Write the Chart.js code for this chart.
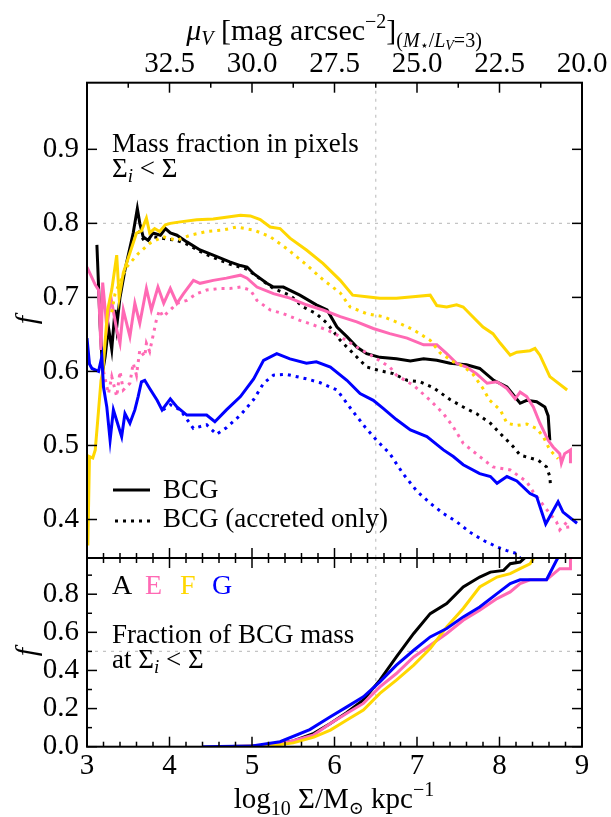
<!DOCTYPE html>
<html>
<head>
<meta charset="utf-8">
<script src="https://cdn.jsdelivr.net/npm/chart.js@4/dist/chart.umd.min.js"></script>
<style>
  html, body { margin: 0; padding: 0; background: #fff; }
  #wrap { position: relative; width: 611px; height: 817px; background: #fff; }
  #wrap canvas { position: absolute; left: 0; }
</style>
</head>
<body>
<div id="wrap">
  <canvas id="topChart" width="611" height="585" style="top:0"></canvas>
  <canvas id="botChart" width="611" height="286" style="top:531px"></canvas>
</div>
<script>
// Clusters and their colours
const clusterNames = ["A", "E", "F", "G"];
const clusterColors = ["#000000", "#ff69b4", "#ffd700", "#0000ff"];

// Top panel: mass fraction in pixels with Sigma_i < Sigma  [log10 Sigma, f]
const pixA = [[3.12,0.771],[3.16,0.66],[3.19,0.60],[3.22,0.62],[3.26,0.66],[3.30,0.63],[3.34,0.683],[3.36,0.66],[3.40,0.70],[3.46,0.737],[3.56,0.787],[3.61,0.82],[3.64,0.80],[3.68,0.782],[3.74,0.777],[3.80,0.787],[3.89,0.784],[3.95,0.793],[4.01,0.787],[4.09,0.784],[4.21,0.775],[4.37,0.764],[4.53,0.757],[4.73,0.748],[4.86,0.743],[4.94,0.741],[5.02,0.732],[5.18,0.719],[5.26,0.714],[5.38,0.714],[5.58,0.703],[5.78,0.69],[5.91,0.683],[6.03,0.66],[6.15,0.647],[6.27,0.633],[6.39,0.624],[6.55,0.619],[6.75,0.617],[6.92,0.614],[7.08,0.617],[7.24,0.615],[7.40,0.611],[7.60,0.609],[7.76,0.604],[7.93,0.588],[8.09,0.579],[8.25,0.557],[8.33,0.561],[8.45,0.559],[8.55,0.552],[8.59,0.54],[8.61,0.507]];
const pixAacc = [[3.62,0.79],[3.70,0.775],[3.80,0.782],[3.90,0.78],[4.09,0.777],[4.21,0.772],[4.37,0.762],[4.53,0.754],[4.73,0.745],[4.94,0.738],[5.10,0.725],[5.26,0.712],[5.46,0.703],[5.62,0.687],[5.78,0.678],[5.91,0.665],[6.07,0.642],[6.23,0.624],[6.39,0.606],[6.55,0.601],[6.71,0.597],[6.88,0.588],[7.04,0.586],[7.20,0.578],[7.40,0.562],[7.56,0.552],[7.72,0.543],[7.89,0.530],[8.01,0.516],[8.17,0.498],[8.25,0.487],[8.47,0.48],[8.57,0.471],[8.61,0.458],[8.62,0.443]];
const pixE = [[3.00,0.741],[3.10,0.717],[3.14,0.71],[3.17,0.629],[3.19,0.72],[3.24,0.66],[3.29,0.70],[3.36,0.656],[3.40,0.638],[3.44,0.683],[3.52,0.647],[3.58,0.692],[3.64,0.665],[3.72,0.712],[3.78,0.683],[3.86,0.714],[3.93,0.692],[4.01,0.712],[4.09,0.692],[4.17,0.705],[4.29,0.723],[4.37,0.719],[4.53,0.723],[4.69,0.726],[4.86,0.73],[4.94,0.726],[5.06,0.714],[5.26,0.705],[5.46,0.699],[5.66,0.69],[5.86,0.683],[6.07,0.674],[6.27,0.667],[6.47,0.658],[6.67,0.651],[6.88,0.645],[7.08,0.636],[7.24,0.636],[7.36,0.624],[7.48,0.611],[7.60,0.606],[7.72,0.597],[7.85,0.584],[7.97,0.586],[8.09,0.577],[8.19,0.563],[8.25,0.572],[8.33,0.566],[8.41,0.552],[8.49,0.53],[8.59,0.507],[8.65,0.498],[8.73,0.489],[8.75,0.476],[8.79,0.489],[8.86,0.494],[8.86,0.476]];
const pixEacc = [[3.20,0.60],[3.26,0.57],[3.30,0.593],[3.36,0.566],[3.40,0.60],[3.44,0.575],[3.52,0.584],[3.56,0.611],[3.60,0.595],[3.64,0.629],[3.70,0.62],[3.72,0.638],[3.76,0.627],[3.84,0.669],[3.88,0.683],[3.92,0.674],[4.01,0.683],[4.09,0.692],[4.21,0.696],[4.33,0.705],[4.45,0.71],[4.61,0.712],[4.73,0.712],[4.86,0.714],[4.98,0.71],[5.06,0.696],[5.22,0.683],[5.38,0.678],[5.58,0.669],[5.74,0.663],[5.91,0.656],[6.07,0.647],[6.27,0.633],[6.47,0.62],[6.67,0.606],[6.75,0.595],[6.96,0.581],[7.16,0.561],[7.32,0.543],[7.44,0.525],[7.56,0.503],[7.76,0.485],[7.92,0.471],[8.13,0.467],[8.33,0.451],[8.41,0.437],[8.61,0.408],[8.69,0.397],[8.73,0.386],[8.82,0.397],[8.83,0.386]];
const pixF = [[3.01,0.365],[3.03,0.485],[3.07,0.483],[3.10,0.494],[3.13,0.534],[3.17,0.588],[3.19,0.598],[3.25,0.683],[3.30,0.71],[3.36,0.757],[3.39,0.70],[3.44,0.733],[3.52,0.76],[3.60,0.787],[3.66,0.79],[3.72,0.807],[3.76,0.787],[3.82,0.793],[3.88,0.789],[3.95,0.798],[4.01,0.80],[4.13,0.802],[4.33,0.805],[4.53,0.806],[4.73,0.809],[4.86,0.811],[4.98,0.81],[5.10,0.805],[5.22,0.795],[5.34,0.793],[5.46,0.78],[5.66,0.764],[5.86,0.746],[6.07,0.723],[6.22,0.703],[6.39,0.701],[6.55,0.699],[6.75,0.699],[6.95,0.701],[7.16,0.703],[7.24,0.689],[7.36,0.687],[7.48,0.69],[7.56,0.687],[7.64,0.678],[7.80,0.66],[7.92,0.651],[8.01,0.638],[8.13,0.622],[8.21,0.626],[8.37,0.628],[8.43,0.631],[8.49,0.622],[8.61,0.593],[8.82,0.575]];
const pixFacc = [[3.30,0.68],[3.34,0.705],[3.48,0.741],[3.62,0.759],[3.76,0.773],[3.92,0.782],[4.09,0.777],[4.25,0.784],[4.45,0.789],[4.65,0.791],[4.81,0.795],[5.02,0.791],[5.22,0.782],[5.42,0.766],[5.66,0.744],[5.86,0.724],[6.07,0.706],[6.19,0.687],[6.39,0.678],[6.59,0.674],[6.79,0.665],[6.96,0.656],[7.16,0.642],[7.28,0.625],[7.44,0.613],[7.56,0.607],[7.68,0.596],[7.80,0.577],[7.88,0.561],[8.01,0.548],[8.09,0.530],[8.21,0.527],[8.33,0.529],[8.45,0.523],[8.53,0.512],[8.61,0.494],[8.71,0.482]];
const pixG = [[3.00,0.645],[3.03,0.61],[3.06,0.604],[3.14,0.60],[3.18,0.62],[3.20,0.579],[3.24,0.552],[3.28,0.507],[3.32,0.548],[3.37,0.53],[3.42,0.512],[3.46,0.543],[3.52,0.53],[3.58,0.548],[3.62,0.566],[3.66,0.586],[3.70,0.588],[3.76,0.577],[3.85,0.561],[3.91,0.548],[4.01,0.563],[4.09,0.552],[4.21,0.541],[4.33,0.541],[4.45,0.541],[4.55,0.532],[4.69,0.548],[4.86,0.566],[5.02,0.59],[5.14,0.615],[5.30,0.624],[5.46,0.617],[5.66,0.611],[5.78,0.613],[5.95,0.606],[6.15,0.588],[6.31,0.570],[6.47,0.561],[6.59,0.55],[6.75,0.535],[6.92,0.521],[7.12,0.512],[7.32,0.494],[7.44,0.485],[7.56,0.474],[7.76,0.462],[7.89,0.458],[7.97,0.449],[8.09,0.458],[8.21,0.452],[8.37,0.435],[8.45,0.431],[8.56,0.394],[8.71,0.424],[8.77,0.41],[8.94,0.395]];
const pixGacc = [[3.92,0.548],[4.01,0.555],[4.13,0.548],[4.29,0.523],[4.45,0.528],[4.57,0.515],[4.69,0.524],[4.86,0.541],[5.02,0.562],[5.14,0.584],[5.26,0.595],[5.42,0.596],[5.66,0.59],[5.82,0.585],[6.03,0.575],[6.15,0.557],[6.23,0.545],[6.37,0.525],[6.51,0.507],[6.67,0.489],[6.83,0.462],[7.00,0.438],[7.16,0.422],[7.32,0.408],[7.48,0.397],[7.64,0.383],[7.80,0.372],[7.97,0.363],[8.09,0.358],[8.21,0.354],[8.30,0.34]];

// Bottom panel: fraction of BCG mass at Sigma_i < Sigma
const bcgA = [[4.6,0],[5.2,0.005],[5.5,0.03],[5.75,0.07],[5.95,0.122],[6.15,0.18],[6.35,0.245],[6.55,0.349],[6.75,0.471],[6.96,0.594],[7.16,0.698],[7.36,0.751],[7.56,0.838],[7.76,0.89],[7.89,0.916],[8.05,0.925],[8.13,0.96],[8.25,0.969],[8.33,1.0]];
const bcgE = [[4.6,0],[5.1,0.004],[5.4,0.02],[5.74,0.06],[5.95,0.122],[6.15,0.175],[6.35,0.227],[6.55,0.314],[6.75,0.384],[6.96,0.471],[7.16,0.532],[7.36,0.594],[7.56,0.663],[7.76,0.716],[7.97,0.777],[8.13,0.812],[8.25,0.856],[8.37,0.876],[8.57,0.876],[8.73,0.934],[8.86,0.934],[8.86,1.0]];
const bcgF = [[4.6,0],[5.2,0.003],[5.5,0.02],[5.75,0.05],[5.95,0.087],[6.15,0.14],[6.35,0.192],[6.55,0.28],[6.75,0.349],[6.96,0.428],[7.16,0.515],[7.36,0.628],[7.56,0.725],[7.76,0.838],[7.97,0.89],[8.13,0.908],[8.25,0.934],[8.37,0.96],[8.43,1.0]];
const bcgG = [[4.4,0],[5.0,0.004],[5.34,0.026],[5.70,0.09],[5.95,0.157],[6.15,0.209],[6.35,0.262],[6.55,0.34],[6.75,0.428],[6.96,0.506],[7.16,0.576],[7.36,0.62],[7.56,0.681],[7.76,0.733],[7.97,0.803],[8.13,0.856],[8.25,0.876],[8.57,0.876],[8.69,0.977],[8.72,1.0]];

// Axes
const logSigmaTicks = [3, 4, 5, 6, 7, 8, 9];
const topYTicks = [0.4, 0.5, 0.6, 0.7, 0.8, 0.9];
const botYTicks = [0, 0.2, 0.4, 0.6, 0.8];
const muTickPos = [4, 5, 6, 7, 8, 9];
const muTickLabels = ["32.5", "30.0", "27.5", "25.0", "22.5", "20.0"];

const SERIF = '"Liberation Serif", "DejaVu Serif", serif';
const font = (size, style) => (style ? style + " " : "") + size + "px " + SERIF;

// list of values from a to b (inclusive) spaced by step
function steps(a, b, step) {
  const out = [];
  const n = Math.round((b - a) / step);
  for (let i = 0; i <= n; i++) out.push(Math.round((a + i * step) * 1000) / 1000);
  return out;
}

function lineDs(points, color, dotted) {
  return {
    data: points.map((p) => ({ x: p[0], y: p[1] })),
    borderColor: color,
    borderWidth: 3,
    borderDash: dotted ? [3, 5] : [],
    pointRadius: 0,
    tension: 0,
    fill: false,
    clip: 0,
  };
}

function seg(ctx, x1, y1, x2, y2) {
  ctx.beginPath();
  ctx.moveTo(x1, y1);
  ctx.lineTo(x2, y2);
  ctx.stroke();
}

// Draw text made of several runs (text, font, baseline shift, colour)
function drawRuns(ctx, runs, x, y, align) {
  let w = 0;
  runs.forEach((r) => {
    ctx.font = r[1];
    w += ctx.measureText(r[0]).width;
  });
  let cx = align === "center" ? x - w / 2 : x;
  ctx.textAlign = "left";
  ctx.textBaseline = "alphabetic";
  runs.forEach((r) => {
    ctx.font = r[1];
    ctx.fillStyle = r[3] || "#000";
    ctx.fillText(r[0], cx, y + (r[2] || 0));
    cx += ctx.measureText(r[0]).width;
  });
}

function drawYLabel(ctx, x, y) {
  ctx.save();
  ctx.translate(x, y);
  ctx.rotate(-Math.PI / 2);
  ctx.font = font(30, "italic");
  ctx.fillStyle = "#000";
  ctx.textAlign = "center";
  ctx.textBaseline = "middle";
  ctx.fillText("f", 0, 0);
  ctx.restore();
}

// Inward tick marks, frame and dotted reference lines
const framePlugin = {
  id: "frameTicks",
  beforeDatasetsDraw(chart, args, opts) {
    const { ctx, chartArea: a, scales } = chart;
    ctx.save();
    ctx.strokeStyle = "#c4c4c4";
    ctx.lineWidth = 1.2;
    ctx.setLineDash([3, 5]);
    const px = scales.x.getPixelForValue(opts.refX);
    seg(ctx, px, a.top, px, a.bottom);
    const py = scales.y.getPixelForValue(opts.refY);
    seg(ctx, a.left, py, a.right, py);
    ctx.restore();
  },
  afterDraw(chart, args, opts) {
    const { ctx, chartArea: a, scales } = chart;
    ctx.save();
    ctx.strokeStyle = "#000";
    ctx.lineWidth = 1.5;
    const xs = scales.x;
    const ys = scales.y;
    opts.xBottom.forEach((t) => {
      const p = xs.getPixelForValue(t[0]);
      seg(ctx, p, a.bottom, p, a.bottom - t[1]);
    });
    opts.xTop.forEach((t) => {
      const p = xs.getPixelForValue(t[0]);
      seg(ctx, p, a.top, p, a.top + t[1]);
    });
    opts.yTicks.forEach((t) => {
      const p = ys.getPixelForValue(t[0]);
      seg(ctx, a.left, p, a.left + t[1], p);
      seg(ctx, a.right, p, a.right - t[1], p);
    });
    ctx.lineWidth = 2;
    ctx.strokeRect(a.left, a.top, a.right - a.left, a.bottom - a.top);
    ctx.restore();
  },
};

const MAJ = 10;
const MIN = 5;
const xMinor = steps(3.2, 8.8, 0.2).filter((v) => !logSigmaTicks.includes(v));
const xTickMarks = logSigmaTicks.map((v) => [v, MAJ]).concat(xMinor.map((v) => [v, MIN]));
const muMinor = steps(3.5, 8.5, 1);
const muTickMarks = muTickPos.map((v) => [v, MAJ]).concat(muMinor.map((v) => [v, MIN]));

// Top panel texts
const topTextPlugin = {
  id: "topText",
  afterDraw(chart) {
    const ctx = chart.ctx;
    ctx.save();
    drawRuns(ctx, [
      ["μ", font(30, "italic")],
      ["V", font(20, "italic"), 5],
      [" [mag arcsec", font(30)],
      ["−2", font(20), -12],
      ["]", font(30)],
      ["(", font(20), 7],
      ["M", font(20, "italic"), 7],
      ["⋆", font(14), 10],
      ["/", font(20), 7],
      ["L", font(20, "italic"), 7],
      ["V", font(14, "italic"), 10],
      ["=3)", font(20), 7],
    ], 334, 40, "center");
    drawYLabel(ctx, 28, 320);
    drawRuns(ctx, [["Mass fraction in pixels", font(27)]], 112, 152);
    drawRuns(ctx, [["Σ", font(27)], ["i", font(19, "italic"), 5], [" < Σ", font(27)]], 112, 177);
    // legend
    ctx.strokeStyle = "#000";
    ctx.lineWidth = 3;
    seg(ctx, 113, 490, 150, 490);
    ctx.setLineDash([3, 5]);
    seg(ctx, 115, 521, 151, 521);
    ctx.setLineDash([]);
    drawRuns(ctx, [["BCG", font(27)]], 163, 498);
    drawRuns(ctx, [["BCG (accreted only)", font(27)]], 163, 527);
    ctx.restore();
  },
};

// Bottom panel texts (canvas starts at page y = 531)
const botTextPlugin = {
  id: "botText",
  afterDraw(chart) {
    const ctx = chart.ctx;
    ctx.save();
    const letterX = [112, 145, 180, 212];
    clusterNames.forEach((n, i) => {
      drawRuns(ctx, [[n, font(28), 0, clusterColors[i]]], letterX[i], 63);
    });
    drawRuns(ctx, [["Fraction of BCG mass", font(27)]], 112, 112);
    drawRuns(ctx, [["at Σ", font(27)], ["i", font(19, "italic"), 5], [" < Σ", font(27)]], 112, 137);
    drawYLabel(ctx, 28, 121);
    drawRuns(ctx, [
      ["log", font(29)],
      ["10", font(20), 7],
      [" Σ/M", font(29)],
      ["⊙", font(18), 6],
      [" kpc", font(29)],
      ["−1", font(20), -12],
    ], 334, 277, "center");
    ctx.restore();
  },
};

const tickFont = { family: SERIF, size: 29 };

new Chart(document.getElementById("topChart"), {
  type: "line",
  data: {
    datasets: [
      lineDs(pixG, clusterColors[3], false),
      lineDs(pixGacc, clusterColors[3], true),
      lineDs(pixF, clusterColors[2], false),
      lineDs(pixFacc, clusterColors[2], true),
      lineDs(pixE, clusterColors[1], false),
      lineDs(pixEacc, clusterColors[1], true),
      lineDs(pixA, clusterColors[0], false),
      lineDs(pixAacc, clusterColors[0], true),
    ],
  },
  options: {
    responsive: false,
    animation: false,
    devicePixelRatio: 1,
    layout: { padding: { left: 0, right: 29, top: 0, bottom: 27 } },
    plugins: {
      legend: { display: false },
      tooltip: { enabled: false },
      frameTicks: { refX: 6.5, refY: 0.8, xBottom: xTickMarks, xTop: muTickMarks, yTicks: topYTicks.map((v) => [v, MAJ]) },
    },
    scales: {
      x: { type: "linear", min: 3, max: 9, display: false },
      x2: {
        type: "linear",
        position: "top",
        min: 3,
        max: 9,
        grid: { display: false, drawTicks: false },
        border: { display: false },
        afterFit: (s) => { s.height = 82.7; },
        afterBuildTicks: (s) => { s.ticks = muTickPos.map((v) => ({ value: v })); },
        ticks: {
          autoSkip: false,
          maxRotation: 0,
          padding: 1,
          color: "#000",
          font: tickFont,
          callback: (v) => muTickLabels[muTickPos.indexOf(v)],
        },
      },
      y: {
        type: "linear",
        min: 0.348,
        max: 0.99,
        grid: { display: false, drawTicks: false },
        border: { display: false },
        afterFit: (s) => { s.width = 87; },
        afterBuildTicks: (s) => { s.ticks = topYTicks.map((v) => ({ value: v })); },
        ticks: { padding: 8, color: "#000", font: tickFont, callback: (v) => v.toFixed(1) },
      },
    },
  },
  plugins: [framePlugin, topTextPlugin],
});

new Chart(document.getElementById("botChart"), {
  type: "line",
  data: {
    datasets: [
      lineDs(bcgG, clusterColors[3], false),
      lineDs(bcgF, clusterColors[2], false),
      lineDs(bcgE, clusterColors[1], false),
      lineDs(bcgA, clusterColors[0], false),
    ],
  },
  options: {
    responsive: false,
    animation: false,
    devicePixelRatio: 1,
    layout: { padding: { left: 0, right: 29, top: 27, bottom: 0 } },
    plugins: {
      legend: { display: false },
      tooltip: { enabled: false },
      frameTicks: {
        refX: 6.5,
        refY: 0.5,
        xBottom: xTickMarks,
        xTop: xTickMarks,
        yTicks: botYTicks.map((v) => [v, MAJ]).concat(steps(0.1, 0.9, 0.2).map((v) => [v, MIN])),
      },
    },
    scales: {
      x: {
        type: "linear",
        min: 3,
        max: 9,
        grid: { display: false, drawTicks: false },
        border: { display: false },
        afterFit: (s) => { s.height = 70.3; },
        afterBuildTicks: (s) => { s.ticks = logSigmaTicks.map((v) => ({ value: v })); },
        ticks: { autoSkip: false, maxRotation: 0, padding: 2, color: "#000", font: tickFont, callback: (v) => String(v) },
      },
      y: {
        type: "linear",
        min: 0,
        max: 0.99,
        grid: { display: false, drawTicks: false },
        border: { display: false },
        afterFit: (s) => { s.width = 87; },
        afterBuildTicks: (s) => { s.ticks = botYTicks.map((v) => ({ value: v })); },
        ticks: { padding: 8, color: "#000", font: tickFont, callback: (v) => v.toFixed(1) },
      },
    },
  },
  plugins: [framePlugin, botTextPlugin],
});
</script>
</body>
</html>
